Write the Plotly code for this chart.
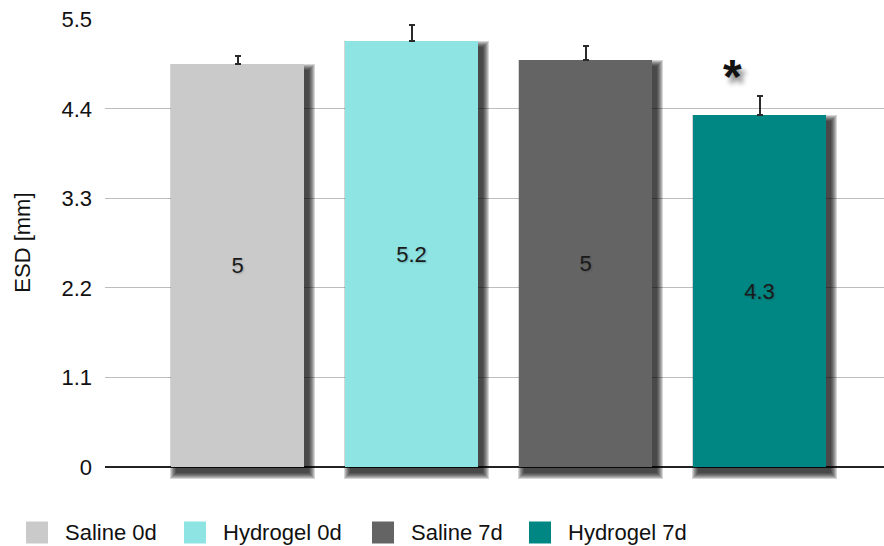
import plotly.graph_objects as go

# ---- data -------------------------------------------------------------
groups = ["Saline 0d", "Hydrogel 0d", "Saline 7d", "Hydrogel 7d"]
esd_mm = [4.95, 5.23, 5.0, 4.33]          # mean ESD per group
esd_err = [0.1, 0.2, 0.17, 0.23]          # upper error
y_ticks = [0, 1.1, 2.2, 3.3, 4.4, 5.5]
significant = [False, False, False, True]

# ---- style ------------------------------------------------------------
colors = ["#cacaca", "#8ee3e3", "#646464", "#008784"]
FONT = "Liberation Sans, Arial, Helvetica, sans-serif"
W, H = 884, 546
M_L, M_R, M_T, M_B = 105, 0, 19, 55
X_RANGE = [-0.762, 3.713]
Y_RANGE = [-0.295, 5.505]
BAR_W = 0.764

plot_w = W - M_L - M_R
plot_h = H - M_T - M_B
px_x = (X_RANGE[1] - X_RANGE[0]) / plot_w   # data units per pixel (x)
px_y = (Y_RANGE[1] - Y_RANGE[0]) / plot_h   # data units per pixel (y)

fig = go.Figure()

# soft drop shadow behind each bar, built from stacked translucent layers
SH_DX, SH_DY = 5, 6
for spread in (6, 5, 4, 3, 2, 1, 0):
    for i, v in enumerate(esd_mm):
        fig.add_trace(go.Bar(
            x=[i + SH_DX * px_x], y=[v + 2 * spread * px_y],
            base=[-(SH_DY + spread) * px_y],
            width=BAR_W + 2 * spread * px_x,
            marker=dict(color="rgba(0,0,0,0.16)", line=dict(width=0)),
            showlegend=False, hoverinfo="skip",
        ))

# bars with value labels and error bars
for i, (name, v, e, c) in enumerate(zip(groups, esd_mm, esd_err, colors)):
    fig.add_trace(go.Bar(
        x=[i], y=[v], name=name, width=BAR_W,
        marker=dict(color=c, line=dict(width=0)),
        error_y=dict(type="data", array=[e], symmetric=False, arrayminus=[0],
                     color="#2a2a2a", thickness=2, width=3),
        texttemplate="%{y:.1~f}", textposition="inside",
        insidetextanchor="middle", textangle=0,
        textfont=dict(family=FONT, size=22, color="#1a1a1a",
                      shadow="1px 1px 2px rgba(0,0,0,0.22)"),
        showlegend=False,
    ))

annotations = []
for i, (v, e, sig) in enumerate(zip(esd_mm, esd_err, significant)):
    if sig:
        annotations.append(dict(
            x=i, y=v + e, xref="x", yref="y", text="<b>*</b>",
            showarrow=False, xshift=-27, yshift=-9, yanchor="bottom",
            font=dict(family=FONT, size=48, color="#111111",
                      shadow="4px 6px 5px rgba(0,0,0,0.45)"),
        ))

# y-axis title, centred on the 0 – 5.5 span
annotations.append(dict(
    x=(22.5 - M_L) / plot_w, y=(0 + 5.5) / 2, xref="paper", yref="y",
    text="ESD [mm]", textangle=-90, showarrow=False,
    xanchor="center", yanchor="middle",
    font=dict(family=FONT, size=22, color="#111111"),
))

# legend row drawn under the plot
legend_left_px = [26, 184, 372, 529]
SW = 22
legend_cy = 532.5
shapes = []
for name, c, lx in zip(groups, colors, legend_left_px):
    x0 = (lx - M_L) / plot_w
    x1 = (lx + SW - M_L) / plot_w
    y0 = (H - M_B - (legend_cy + SW / 2)) / plot_h
    y1 = (H - M_B - (legend_cy - SW / 2)) / plot_h
    shapes.append(dict(type="rect", xref="paper", yref="paper",
                       x0=x0, x1=x1, y0=y0, y1=y1,
                       fillcolor=c, line=dict(width=0)))
    annotations.append(dict(
        x=(lx + SW + 15 - M_L) / plot_w, y=(H - M_B - legend_cy) / plot_h,
        xref="paper", yref="paper", xanchor="left", yanchor="middle",
        text=name, showarrow=False,
        font=dict(family=FONT, size=22, color="#111111"),
    ))

fig.update_layout(
    width=W, height=H,
    margin=dict(l=M_L, r=M_R, t=M_T, b=M_B, autoexpand=False),
    paper_bgcolor="white", plot_bgcolor="white",
    barmode="overlay", bargap=0,
    showlegend=False,
    font=dict(family=FONT, size=22, color="#111111"),
    xaxis=dict(range=X_RANGE, showticklabels=False, showgrid=False,
               zeroline=False, showline=False, ticks="", fixedrange=True),
    yaxis=dict(range=Y_RANGE, tickvals=y_ticks,
               ticktext=[f"{t:g}" for t in y_ticks],
               showgrid=True, gridcolor="#bdbdbd", gridwidth=1,
               zeroline=True, zerolinecolor="#222222", zerolinewidth=1.5,
               showline=False, ticks="", ticklabelstandoff=12,
               tickfont=dict(family=FONT, size=22, color="#111111"),
               automargin=False),
    shapes=shapes,
    annotations=annotations,
)

fig.write_html("out.html")
